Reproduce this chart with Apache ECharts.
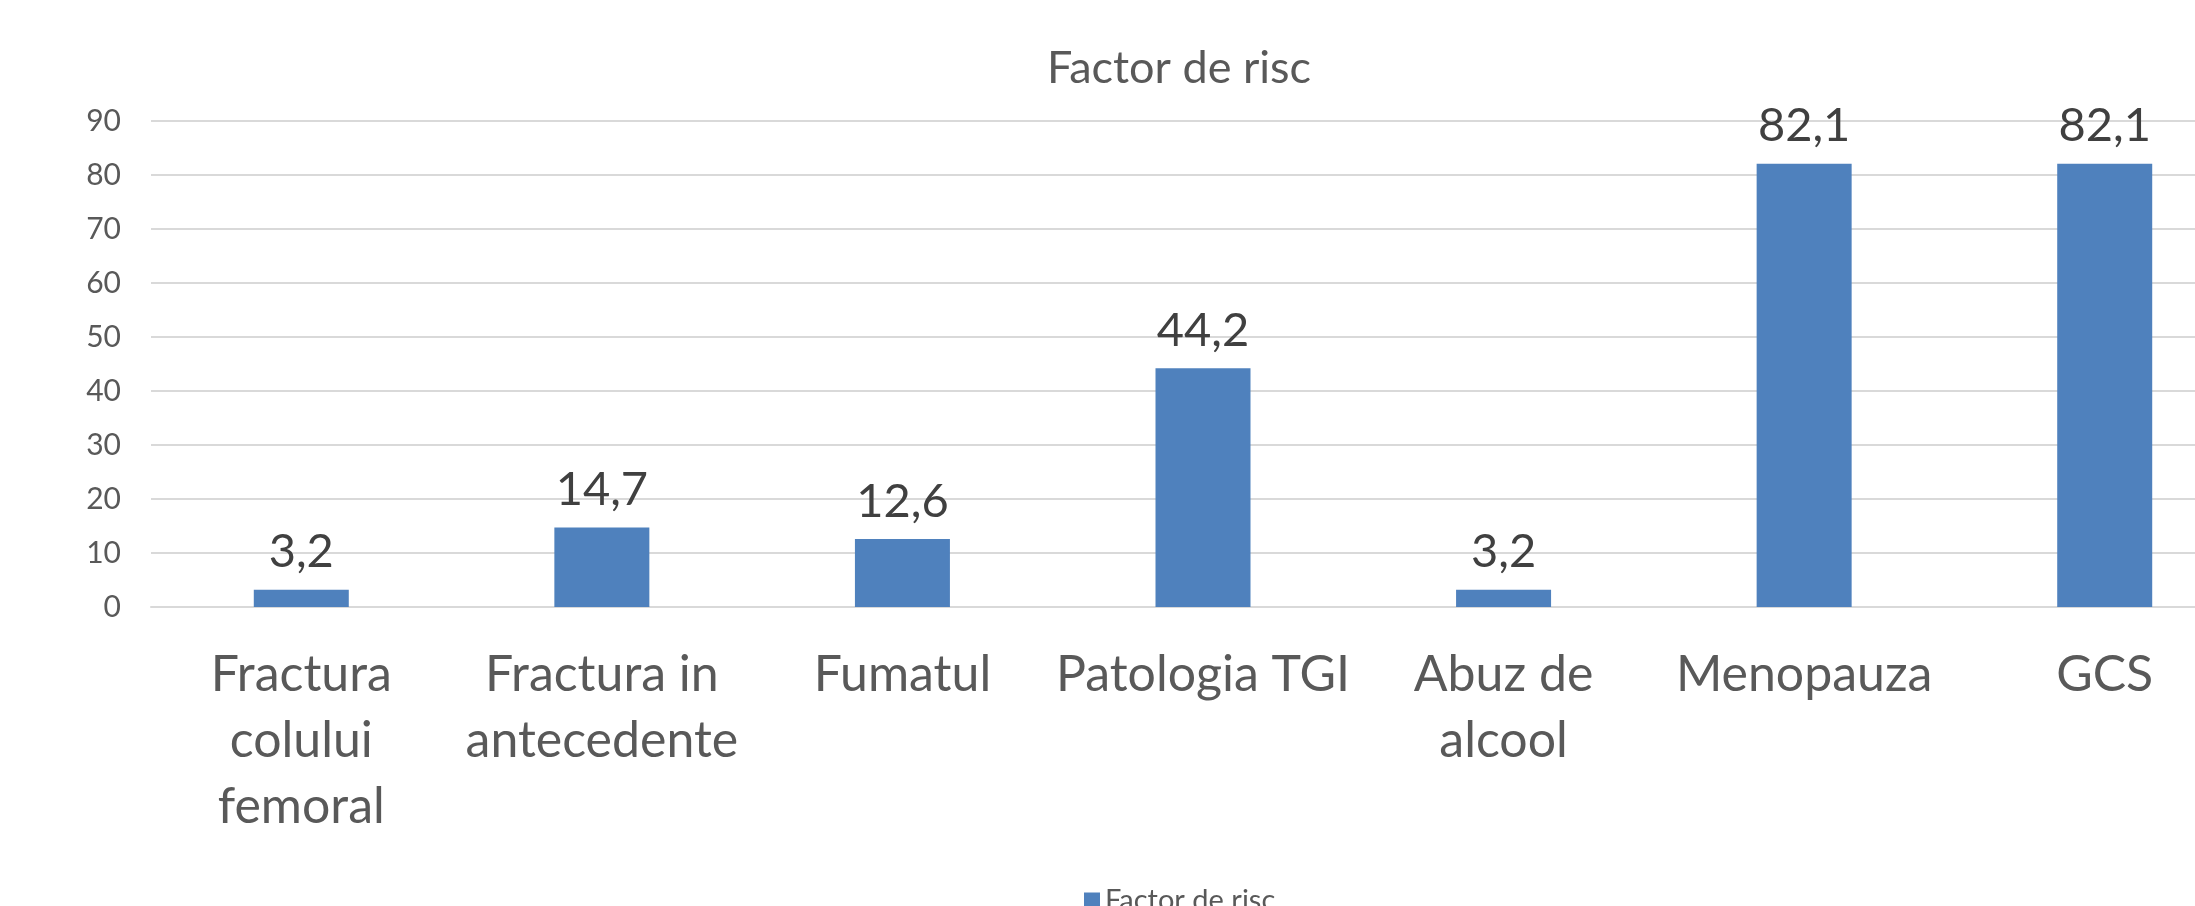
<!DOCTYPE html>
<html>
<head>
<meta charset="utf-8">
<script src="https://cdn.jsdelivr.net/npm/echarts@6/dist/echarts.min.js"></script>
<style>
  html, body { margin: 0; padding: 0; background: #fff; overflow: hidden; }
  /* plot runs past the right edge like in the reference, so the div is wider than the window */
  #chart { width: 2260px; height: 906px; }
</style>
</head>
<body>
<div id="chart"></div>
<script>
  // categorii (cu rupere de rand ca in Excel)
  var categories = ['Fractura\ncolului\nfemoral', 'Fractura in\nantecedente', 'Fumatul', 'Patologia TGI', 'Abuz de\nalcool', 'Menopauza', 'GCS'];
  var values = [3.2, 14.7, 12.6, 44.2, 3.2, 82.1, 82.1];
  var seriesName = 'Factor de risc';
  var yMin = 0, yMax = 90, yStep = 10;

  var font = 'Lato, "Noto Sans", sans-serif';
  var myChart = echarts.init(document.getElementById('chart'));

  myChart.setOption({
    animation: false,
    color: ['#4f81bd'],
    title: {
      text: 'Factor de risc',
      left: 1174,
      top: 41,
      textAlign: 'center',
      textStyle: { fontFamily: font, fontSize: 45, fontWeight: 'normal', color: '#595959' }
    },
    legend: {
      data: [seriesName],
      left: 1079,
      top: 881,
      itemWidth: 16,
      itemHeight: 16,
      itemGap: 10,
      icon: 'rect',
      selectedMode: false,
      textStyle: { fontFamily: font, fontSize: 29, color: '#595959' }
    },
    grid: {
      left: 151,
      top: 121,
      width: 2104,
      height: 486
    },
    xAxis: {
      type: 'category',
      data: categories,
      axisTick: { show: false },
      axisLine: { lineStyle: { color: '#d9d9d9', width: 2 } },
      axisLabel: {
        interval: 0,
        margin: 35,
        fontFamily: font,
        fontSize: 50,
        lineHeight: 66,
        color: '#595959'
      }
    },
    yAxis: {
      type: 'value',
      min: yMin,
      max: yMax,
      interval: yStep,
      axisLine: { show: false },
      axisTick: { show: false },
      splitLine: { lineStyle: { color: '#d9d9d9', width: 2 } },
      axisLabel: { margin: 30, fontFamily: font, fontSize: 30, color: '#595959' }
    },
    series: [
      {
        name: seriesName,
        type: 'bar',
        barWidth: 95,
        data: values,
        label: {
          show: true,
          position: 'top',
          distance: 14,
          fontFamily: font,
          fontSize: 47,
          color: '#404040',
          formatter: function (p) { return String(p.value).replace('.', ','); }
        }
      }
    ]
  });
</script>
</body>
</html>
